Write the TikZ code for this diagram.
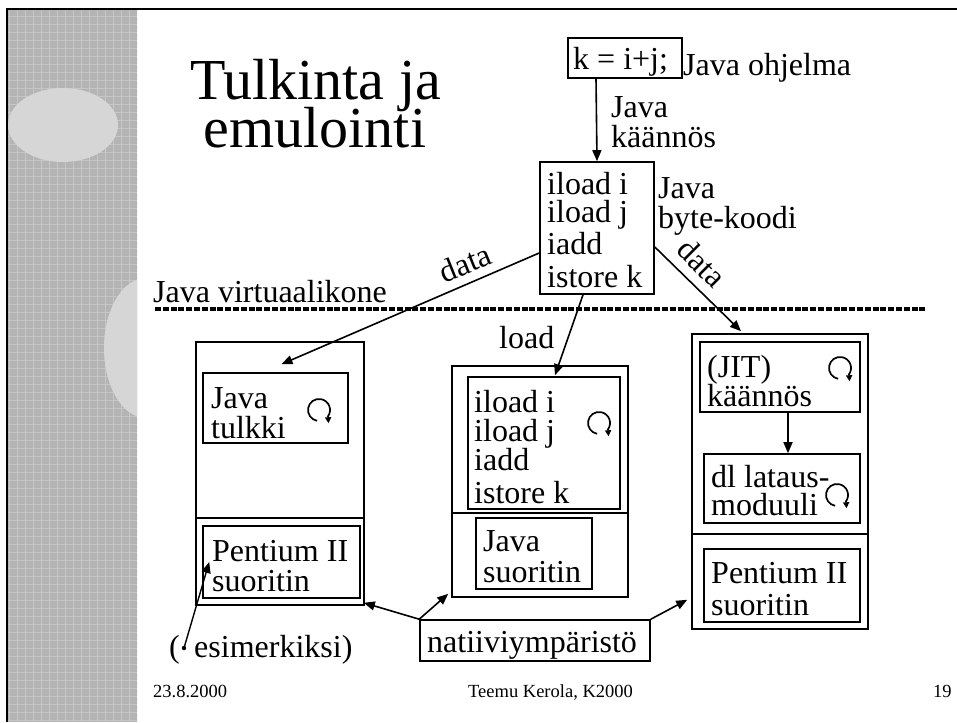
\documentclass[tikz,border=0pt]{standalone}
\usepackage{fontspec}
\setmainfont{Liberation Serif}
\usetikzlibrary{arrows.meta}
\definecolor{panelgray}{HTML}{B4B4B4}
\definecolor{panelline}{HTML}{C6C6C6}
\definecolor{blobgray}{HTML}{D6D6D6}
\tikzset{
  txt/.style={anchor=base west, inner sep=0pt, font=\fontsize{32}{30}\selectfont},
  ttl/.style={anchor=base, inner sep=0pt, font=\fontsize{58}{50}\selectfont},
  foot/.style={anchor=base west, inner sep=0pt, font=\fontsize{18.5}{20}\selectfont},
  box/.style={draw, line width=1.6pt, inner sep=0pt},
  arr/.style={line width=1.6pt, -{Triangle[length=11pt,width=9pt]}},
  loopsym/.style={line width=1.7pt, -{Triangle[length=6pt,width=6pt]}},
  sep/.style={line width=1.6pt}
}
\newcommand{\boxat}[5]{\node[box, minimum width=#4-#2, minimum height=#5-#3] (#1) at ({(#2+#4)/2},{(#3+#5)/2}) {};}
\newcommand{\loopat}[1]{\draw[loopsym] (#1) ++(-1.9,10.8) arc[start angle=260, end angle=-35, radius=11pt] -- ++(0.5,7);}
\begin{document}
\begin{tikzpicture}[x=1pt,y=-1pt]
\useasboundingbox (0,0) rectangle (957,722);
\fill[white] (0,0) rectangle (957,722);
% left decorative panel
\fill[panelgray] (7,8) rectangle (137,722);
\begin{scope}
  \clip (7,8) rectangle (137,722);
  \foreach \k in {0,...,90} {\draw[panelline, line width=0.6pt] (7,{8+8*\k}) -- (137,{8+8*\k});}
  \foreach \k in {0,...,17} {\draw[panelline, line width=0.6pt] ({9+8*\k},8) -- ({9+8*\k},722);}
  \fill[blobgray] (63,125) ellipse [x radius=55, y radius=37];
  \fill[blobgray] (146,348) ellipse [x radius=42, y radius=70];
\end{scope}
\draw[line width=1.6pt] (7,8) -- (7,722);
\draw[line width=1.2pt] (7,9) -- (957,9);
% title
\node[ttl] (t1) at (315.5,100) {Tulkinta ja};
\node[ttl] (t2) at (315,148) {emulointi};
% top source box
\boxat{kbox}{568}{38}{682}{78}
\node[txt] (ktxt) at (573,70) {k = i+j;};
\node[txt] (kl) at (683,76) {Java ohjelma};
\node[txt] (jk1) at (611,118) {Java};
\node[txt] (jk2) at (611,148) {käännös};
% byte code box
\boxat{code}{540}{162}{654}{294}
\node[txt] (c1) at (547,194) {iload i};
\node[txt] (c2) at (547,222.5) {iload j};
\node[txt] (c3) at (547,254) {iadd};
\node[txt] (c4) at (547,287) {istore k};
\node[txt] (bk1) at (658,198) {Java};
\node[txt] (bk2) at (658,228) {byte-koodi};
% virtual machine line
\node[txt] (jvm) at (153,302) {Java virtuaalikone};
\coordinate (dl0) at (155,309);
\coordinate (dl1) at (925,309);
\draw[line width=3.6pt, dash pattern=on 6pt off 1.8pt] (dl0) -- (dl1);
% left column
\boxat{Lout}{196}{342}{364}{605}
\coordinate (Ld0) at (196,518);
\coordinate (Ld1) at (364,518);
\draw[sep] (Ld0) -- (Ld1);
\boxat{Ltulk}{203}{373}{348}{443}
\node[txt] (lt1) at (211,408) {Java};
\node[txt] (lt2) at (211,438) {tulkki};
\boxat{Lpent}{203}{526}{360}{598}
\node[txt] (lp1) at (212,561) {Pentium II};
\node[txt] (lp2) at (212,591) {suoritin};
\coordinate (Lloop) at (319,410);
\loopat{Lloop}
% middle column
\boxat{Mout}{452}{366}{628}{597}
\coordinate (Md0) at (452,513);
\coordinate (Md1) at (628,513);
\draw[sep] (Md0) -- (Md1);
\boxat{Mcode}{468}{377}{620}{509}
\node[txt] (m1) at (474,412) {iload i};
\node[txt] (m2) at (474,441) {iload j};
\node[txt] (m3) at (474,470) {iadd};
\node[txt] (m4) at (474,503) {istore k};
\boxat{Mjava}{476}{518}{592}{589}
\node[txt] (mj1) at (483,551) {Java};
\node[txt] (mj2) at (483,582) {suoritin};
\node[txt] (ld) at (499,348) {load};
\coordinate (Mloop) at (599,423);
\loopat{Mloop}
% right column
\boxat{Rout}{692}{334}{868}{629}
\coordinate (Rd0) at (692,534);
\coordinate (Rd1) at (868,534);
\draw[sep] (Rd0) -- (Rd1);
\boxat{Rjit}{700}{342}{860}{412}
\node[txt] (rj1) at (707,377) {(JIT)};
\node[txt] (rj2) at (707,406) {käännös};
\boxat{Rdl}{704}{454}{860}{523}
\node[txt] (rd1) at (711,487) {dl lataus-};
\node[txt] (rd2) at (711,515) {moduuli};
\boxat{Rpent}{704}{549}{860}{622}
\node[txt] (rp1) at (711,583) {Pentium II};
\node[txt] (rp2) at (711,615) {suoritin};
\coordinate (Rloop1) at (840,368);
\loopat{Rloop1}
\coordinate (Rloop2) at (837,495);
\loopat{Rloop2}
% native environment
\boxat{natii}{420}{620}{650}{661}
\node[txt] (nt) at (427,652) {natiiviympäristö};
\node[txt] (par) at (169,657) {(};
\node[txt] (esim) at (194,657) {esimerkiksi)};
\coordinate (dot) at (184,648);
\fill (dot) circle (2.2pt);
% footer
\node[foot] (f1) at (153,697) {23.8.2000};
\node[foot] (f2) at (468,697) {Teemu Kerola, K2000};
\node[foot] (f3) at (933,697) {19};
% connectors
\draw[arr] ([xshift=-29pt]kbox.south) -- (code.north);
\draw[arr] ([yshift=-25pt]code.west) -- ([xshift=6pt,yshift=8pt]Ltulk.north);
\node[inner sep=0pt, rotate=22, font=\fontsize{32}{30}\selectfont] (dataL) at (465,263) {data};
\draw[arr] ([yshift=-19pt]code.east) -- ([xshift=-39pt,yshift=2pt]Rout.north);
\node[inner sep=0pt, rotate=-45, font=\fontsize{32}{30}\selectfont] (dataR) at (702,263) {data};
\draw[arr] ([xshift=-14pt]code.south) -- ([xshift=11pt,yshift=1pt]Mcode.north);
\draw[arr] ([xshift=8pt]Rjit.south) -- ([xshift=6pt]Rdl.north);
\draw[arr] (natii.north west) -- ([xshift=-1pt,yshift=3pt]Lout.south east);
\draw[arr] (natii.north west) -- ([xshift=-3pt,yshift=4pt]Mout.south west);
\draw[arr] (natii.north east) -- ([xshift=-4pt,yshift=30pt]Rout.south west);
\draw[arr, line width=1.4pt] (dot) -- ([xshift=7pt]Lpent.west);
\end{tikzpicture}
\end{document}
